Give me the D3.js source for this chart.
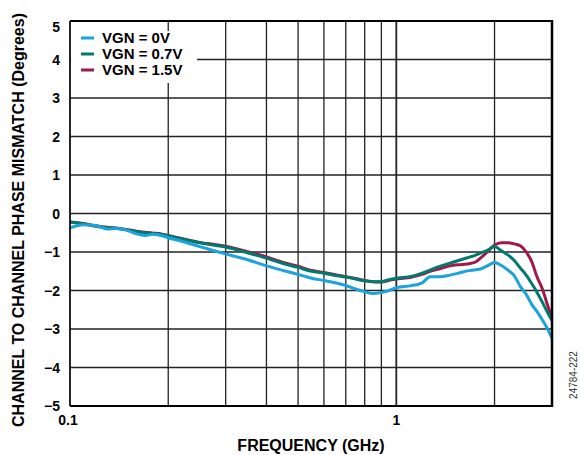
<!DOCTYPE html>
<html><head><meta charset="utf-8">
<script src="https://cdn.jsdelivr.net/npm/d3@7"></script>
<style>body{margin:0;background:#fff}svg{display:block}text{font-family:"Liberation Sans",Arial,sans-serif}</style>
</head><body><svg id="c" width="580" height="455"></svg>
<script>
const freqs = [0.1,0.11,0.12,0.13,0.14,0.15,0.16,0.17,0.18,0.19,0.2,0.22,0.25,0.28,0.3,0.35,0.4,0.45,0.5,0.55,0.6,0.65,0.7,0.75,0.8,0.85,0.9,0.95,1.0,1.05,1.1,1.2,1.27,1.35,1.46,1.55,1.65,1.75,1.81,1.9,2.0,2.1,2.2,2.3,2.4,2.5,2.6,2.7,2.8,2.9,3.0];
const vgn0 = [-0.37,-0.29,-0.31,-0.40,-0.39,-0.44,-0.53,-0.57,-0.54,-0.57,-0.63,-0.72,-0.86,-0.98,-1.05,-1.2,-1.36,-1.48,-1.58,-1.68,-1.74,-1.8,-1.87,-1.96,-2.03,-2.08,-2.05,-2.0,-1.93,-1.9,-1.88,-1.8,-1.64,-1.64,-1.6,-1.55,-1.49,-1.46,-1.44,-1.36,-1.27,-1.35,-1.47,-1.62,-1.9,-2.1,-2.36,-2.55,-2.76,-2.98,-3.24];
const vgn07 = [-0.22,-0.27,-0.33,-0.37,-0.39,-0.43,-0.47,-0.50,-0.52,-0.54,-0.58,-0.66,-0.76,-0.83,-0.87,-1.02,-1.16,-1.30,-1.40,-1.5,-1.55,-1.61,-1.65,-1.7,-1.75,-1.77,-1.77,-1.72,-1.68,-1.66,-1.64,-1.55,-1.47,-1.38,-1.29,-1.22,-1.15,-1.08,-1.03,-0.96,-0.86,-0.97,-1.08,-1.22,-1.42,-1.6,-1.82,-2.05,-2.3,-2.55,-2.78];
const vgn15 = [-0.22,-0.26,-0.32,-0.36,-0.38,-0.42,-0.46,-0.49,-0.51,-0.53,-0.57,-0.65,-0.75,-0.81,-0.85,-0.99,-1.13,-1.27,-1.37,-1.48,-1.53,-1.59,-1.64,-1.69,-1.74,-1.77,-1.78,-1.74,-1.70,-1.68,-1.66,-1.58,-1.5,-1.44,-1.36,-1.33,-1.31,-1.26,-1.16,-1.0,-0.82,-0.76,-0.76,-0.79,-0.84,-1.0,-1.25,-1.65,-1.95,-2.35,-2.72];
const seriesNames = ["VGN = 0V","VGN = 0.7V","VGN = 1.5V"];
const seriesColors = ["#1AA3DC","#007A6E","#A0194A"];
const xTicks = [0.1,1];
const xGrid = [0.2,0.3,0.4,0.5,0.6,0.7,0.8,0.9,1,2];
const yTicks = [5,4,3,2,1,0,-1,-2,-3,-4,-5];
const xTitle = "FREQUENCY (GHz)";
const yTitle = "CHANNEL TO CHANNEL PHASE MISMATCH (Degrees)";
const figId = "24784-222";

const svg = d3.select("#c");
const L=70,R=552,T=21,B=406;
const x = d3.scaleLog().domain([0.1,3]).range([L,R]);
const y = d3.scaleLinear().domain([-5,5]).range([B,T]);

const g = svg.append("g");
g.selectAll(".hg").data(yTicks.filter(v=>v>-5&&v<5)).enter().append("line")
 .attr("x1",L).attr("x2",R).attr("y1",d=>y(d)).attr("y2",d=>y(d))
 .attr("stroke","#222").attr("stroke-width",1.3);
g.selectAll(".vg").data(xGrid).enter().append("line")
 .attr("x1",d=>x(d)).attr("x2",d=>x(d)).attr("y1",T).attr("y2",B)
 .attr("stroke","#222").attr("stroke-width",d=>d===1?1.8:1.3);

svg.append("rect").attr("x",L+1).attr("y",31).attr("width",126).attr("height",52).attr("fill","#fff");

const line = d3.line().x(d=>x(d[0])).y(d=>y(d[1])).curve(d3.curveMonotoneX);
const data = [vgn0,vgn07,vgn15];
[2,1,0].forEach(i=>{
  svg.append("path").datum(freqs.map((f,j)=>[f,data[i][j]]))
   .attr("d",line).attr("fill","none").attr("stroke",seriesColors[i])
   .attr("stroke-width",3).attr("stroke-linejoin","round");
});

svg.append("line").attr("x1",L).attr("x2",L).attr("y1",T).attr("y2",B).attr("stroke","#000").attr("stroke-width",1.7);
svg.append("line").attr("x1",L).attr("x2",R+1).attr("y1",T).attr("y2",T).attr("stroke","#000").attr("stroke-width",2);
svg.append("line").attr("x1",L).attr("x2",R+1).attr("y1",B).attr("y2",B).attr("stroke","#000").attr("stroke-width",2);
svg.append("line").attr("x1",R).attr("x2",R).attr("y1",T-1).attr("y2",B+1).attr("stroke","#000").attr("stroke-width",2.5);

svg.selectAll(".yl").data(yTicks).enter().append("text")
 .attr("x",60).attr("y",d=>y(d)).attr("dy",d=>d===5?"0.75em":"0.36em")
 .attr("text-anchor","end").attr("font-size",14).attr("font-weight","bold")
 .text(d=>d<0?"\u2212"+Math.abs(d):d);
svg.selectAll(".xl").data(xTicks).enter().append("text")
 .attr("x",d=>d===0.1?x(d)-2:x(d)).attr("y",425).attr("text-anchor","middle")
 .attr("font-size",14).attr("font-weight","bold").text(d=>d);

seriesNames.forEach((n,i)=>{
  const yy = 38 + i*16;
  svg.append("line").attr("x1",81).attr("x2",94).attr("y1",yy).attr("y2",yy)
   .attr("stroke",seriesColors[i]).attr("stroke-width",3);
  svg.append("text").attr("x",102).attr("y",yy).attr("dy","0.36em")
   .attr("font-size",15).attr("font-weight","bold").text(n);
});

svg.append("text").attr("x",(L+R)/2).attr("y",451).attr("text-anchor","middle")
 .attr("font-size",16).attr("font-weight","bold").text(xTitle);
svg.append("text").attr("transform","translate(24,220) rotate(-90)").attr("text-anchor","middle")
 .attr("font-size",16).attr("font-weight","bold").text(yTitle);
svg.append("text").attr("transform","translate(577,375) rotate(-90)").attr("text-anchor","middle")
 .attr("font-size",10).attr("fill","#333").text(figId);
</script></body></html>
